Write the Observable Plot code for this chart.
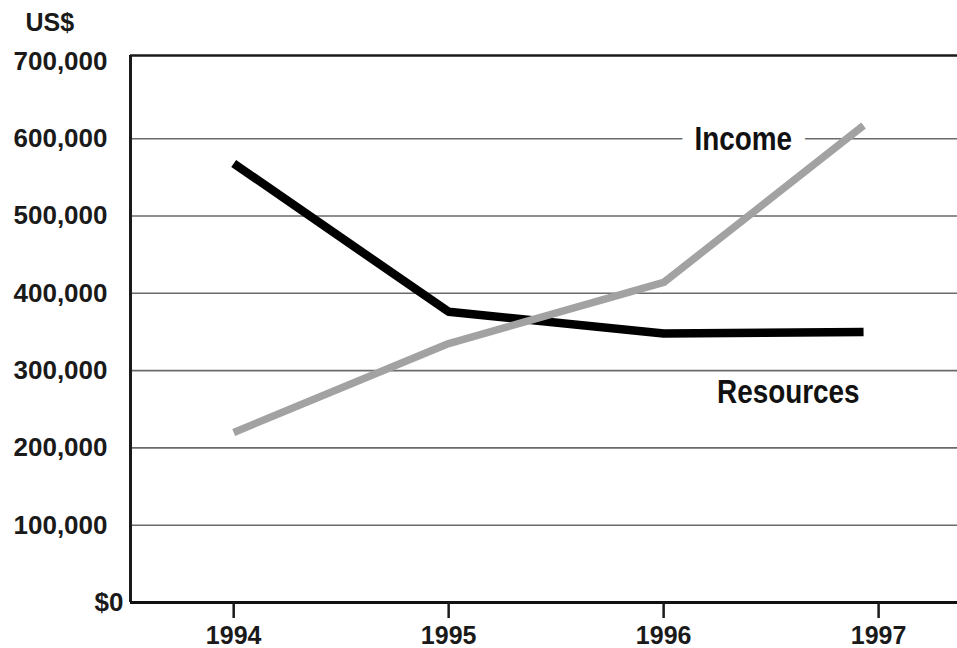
<!DOCTYPE html>
<html><head><meta charset="utf-8">
<script src="https://cdn.jsdelivr.net/npm/d3@7"></script>
<script src="https://cdn.jsdelivr.net/npm/@observablehq/plot@0.6"></script>
<style>
html,body{margin:0;padding:0;background:#fff;}
#chart svg{display:block;}
</style></head><body><div id="chart"></div>
<script>
// ---- data ----
const years = [1994, 1995, 1996, 1996.93];
const resources = [568000, 376000, 348000, 350000];
const income = [220000, 335000, 414000, 617000];

const xTicks = [1994, 1995, 1996, 1997];
const yTicks = [100000, 200000, 300000, 400000, 500000, 600000, 700000];
const yTickLabels = ["100,000", "200,000", "300,000", "400,000", "500,000", "600,000", "700,000"];
const zeroLabel = "$0";
const gridValues = [100000, 200000, 300000, 400000, 500000, 600000];
const xDomain = [1993.52, 1997.367];
const yDomain = [0, 707600];

const seriesNames = ["Income", "Resources"];
const labelX = [1996.37, 1996.58];
const labelY = [600000, 272000];
const unitLabel = "US$";

// ---- tables ----
const resRows = years.map((x, i) => ({x, y: resources[i]}));
const incRows = years.map((x, i) => ({x, y: income[i]}));
const labelRows = seriesNames.map((t, i) => ({t, x: labelX[i], y: labelY[i]}));

const labelFont = "'Liberation Sans', Arial, sans-serif";

const chart = Plot.plot({
  width: 957,
  height: 648,
  marginLeft: 130,
  marginRight: 0,
  marginTop: 55,
  marginBottom: 46,
  style: {fontFamily: "'Liberation Sans', Arial, sans-serif", fontWeight: "bold", background: "#fff", color: "#1a1a1a", overflow: "visible"},
  x: {domain: xDomain, label: null},
  y: {domain: yDomain, label: null},
  marks: [
    Plot.ruleY(gridValues, {stroke: "#6a6a6a", strokeWidth: 1.6}),
    Plot.ruleX([xDomain[0]], {stroke: "#1a1a1a", strokeWidth: 3}),
    Plot.ruleY([yDomain[1]], {stroke: "#1a1a1a", strokeWidth: 2.5}),
    Plot.ruleY([0], {stroke: "#111", strokeWidth: 3}),
    Plot.text(labelRows.slice(0, 1), {x: "x", y: "y", text: "t", fontFamily: labelFont, fontSize: 34, fontWeight: "bold", fill: "#111", stroke: "white", strokeWidth: 34, lineAnchor: "middle"}),
    Plot.line(resRows, {x: "x", y: "y", stroke: "#000", strokeWidth: 8.5, strokeLinejoin: "round", strokeLinecap: "butt"}),
    Plot.line(incRows, {x: "x", y: "y", stroke: "#a2a2a2", strokeWidth: 7.5, strokeLinejoin: "round", strokeLinecap: "butt"}),
    Plot.text(labelRows.slice(1), {x: "x", y: "y", text: "t", fontFamily: labelFont, fontSize: 34, fontWeight: "bold", fill: "#111", lineAnchor: "middle"}),
    Plot.axisY(yTicks, {tickSize: 0, tickPadding: 23, label: null, fontSize: 26, fontWeight: "bold", fill: "#1a1a1a", tickFormat: d => yTickLabels[yTicks.indexOf(d)]}),
    Plot.axisY([0], {tickSize: 0, tickPadding: 7, label: null, fontSize: 26, fontWeight: "bold", fill: "#1a1a1a", tickFormat: () => zeroLabel}),
    Plot.axisX(xTicks, {tickSize: 16, tickPadding: 8, label: null, fontSize: 25, fontWeight: "bold", stroke: "#1a1a1a", strokeWidth: 2.5, fill: "#1a1a1a", tickFormat: d => String(d)}),
    Plot.text([unitLabel], {frameAnchor: "top-left", text: d => d, dx: -105, dy: -33, textAnchor: "start", lineAnchor: "middle", fontSize: 25, fontWeight: "bold", fill: "#1a1a1a"})
  ]
});

// condense the series labels (no condensed face is installed)
d3.select(chart).selectAll("text").each(function () {
  if (seriesNames.includes(this.textContent)) {
    const t = this.getAttribute("transform") || "";
    this.setAttribute("transform", t + " scale(0.82,1)");
  }
});
document.getElementById("chart").appendChild(chart);
</script>
</body></html>
